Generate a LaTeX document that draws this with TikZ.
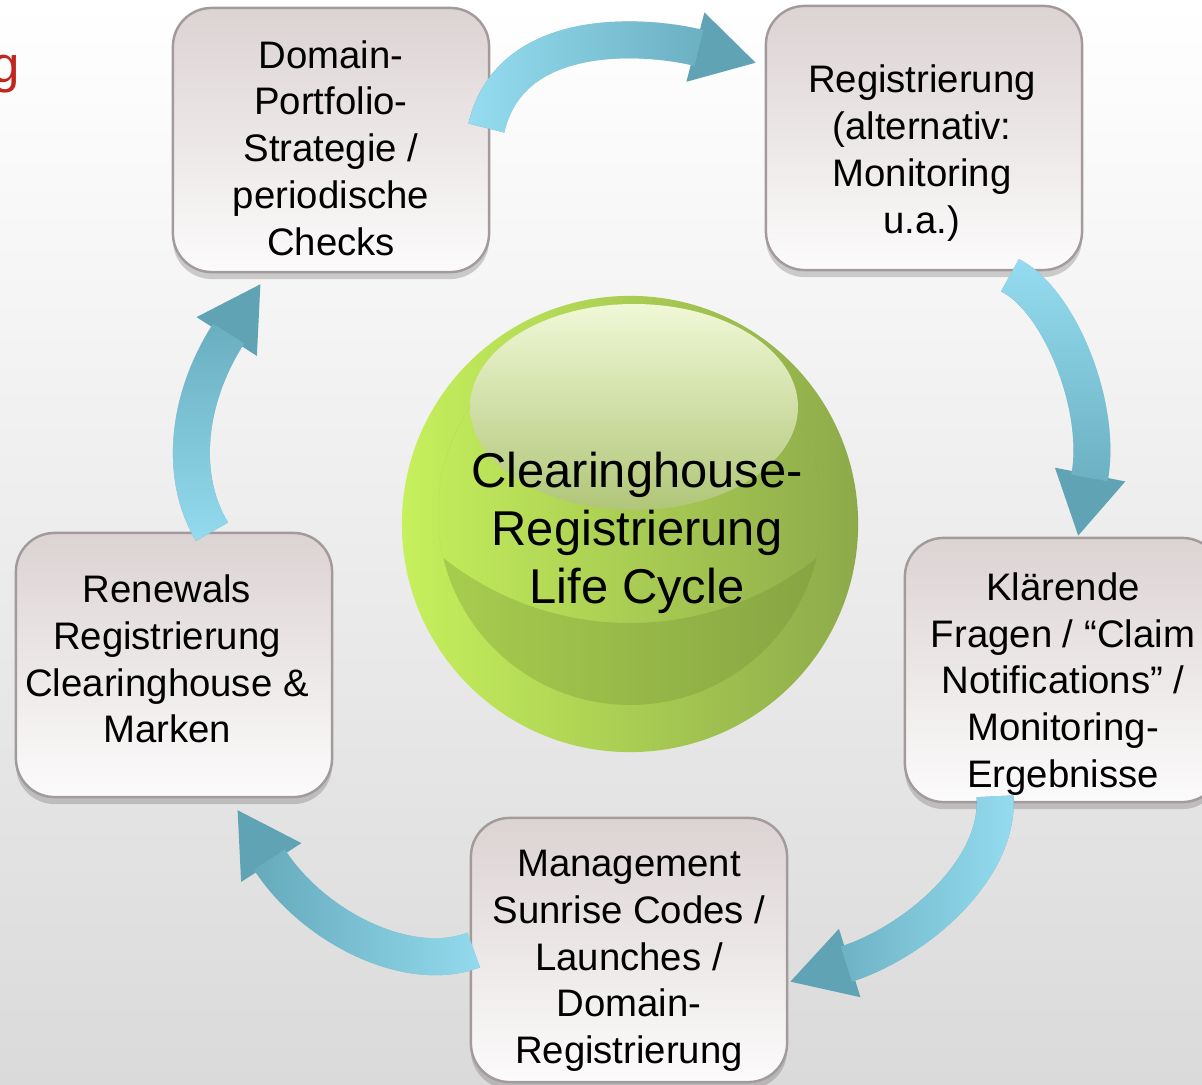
\documentclass[tikz,border=0pt]{standalone}
\usepackage{fontspec}
\setmainfont{Liberation Sans}
\usetikzlibrary{positioning,calc,shapes,shadows,fadings,arrows.meta}

\definecolor{boxtop}{HTML}{DCD3D3}
\definecolor{boxbot}{HTML}{FCFBFB}
\definecolor{boxline}{HTML}{A39B9B}
\definecolor{flowdark}{HTML}{5FA3B4}
\definecolor{flowlight}{HTML}{96DDF1}
\definecolor{ballleft}{HTML}{C6F05C}
\definecolor{ballmid}{HTML}{A0C052}
\definecolor{ballright}{HTML}{8DAA4A}
\definecolor{ballshade}{HTML}{6F8C32}
\definecolor{glosstop}{HTML}{F0F8D6}
\definecolor{glossbot}{HTML}{B0C678}
\definecolor{bgmid}{HTML}{F3F3F3}
\definecolor{bgbot}{HTML}{DADADA}
\definecolor{titlered}{HTML}{C0261E}

\tikzfading[name=fadeleft, left color=transparent!0, middle color=transparent!100, right color=transparent!100]
\tikzfading[name=faderight, left color=transparent!100, middle color=transparent!100, right color=transparent!0]
\tikzfading[name=fadetop, top color=transparent!0, middle color=transparent!100, bottom color=transparent!100]
\tikzfading[name=fadebottom, top color=transparent!100, middle color=transparent!100, bottom color=transparent!0]

\tikzstyle{stepbox}=[rectangle, rounded corners=11pt, draw=boxline, line width=0.7pt, top color=boxtop, bottom color=boxbot, minimum width=3.16cm, minimum height=2.64cm, drop shadow={shadow xshift=0pt, shadow yshift=-2pt, opacity=0.3, fill=black!60}]
\tikzstyle{steptext}=[align=center, inner sep=0pt, font=\fontsize{10.9}{13.3}\selectfont]
\tikzstyle{flow}=[line width=10.5pt, flowdark, -{Triangle[width=19pt, length=18pt]}]
\tikzstyle{flowtail}=[line width=10.5pt, flowlight, shorten >=17pt]

\begin{document}
\begin{tikzpicture}[x=0.01cm, y=-0.01cm]
	\clip (0,0) rectangle (1202,1085);
	\shade[top color=white, middle color=bgmid, bottom color=bgbot] (0,0) rectangle (1202,1085);
	\node[anchor=base east, inner sep=0pt, text=titlered, font=\fontsize{14.5}{17}\selectfont] (title) at (21,83) {g};

	% the five steps
	\node[stepbox] (strat) at (331,140) {};
	\node[stepbox] (reg) at (924,138) {};
	\node[stepbox] (claim) at (1063,670) {};
	\node[stepbox] (mgmt) at (629,950) {};
	\node[stepbox] (renew) at (174,665) {};
	\node[steptext] (strattxt) at ($(strat)+(0,8)$) {Domain-\\Portfolio-\\Strategie /\\periodische\\Checks};
	\node[steptext] (regtxt) at ($(reg)+(-2,15)$) {Registrierung\\(alternativ:\\Monitoring\\u.a.)};
	\node[steptext] (claimtxt) at ($(claim)+(0,14)$) {Klärende\\Fragen / “Claim\\Notifications” /\\Monitoring-\\Ergebnisse};
	\node[steptext] (mgmttxt) at ($(mgmt)+(0,11)$) {Management\\Sunrise Codes /\\Launches /\\Domain-\\Registrierung};
	\node[steptext] (renewtxt) at ($(renew)+(-7,-6)$) {Renewals\\Registrierung\\Clearinghouse \&\\Marken};

	% centre
	\node[circle, minimum size=4.56cm, inner sep=0pt, left color=ballleft, middle color=ballmid, right color=ballright,
		path picture={
			\coordinate (o) at (path picture bounding box.center);
			\begin{scope}
				\clip ($(o)+(0,-11)$) circle (192);
				\fill[ballshade, fill opacity=.3, even odd rule] ($(o)+(0,-11)$) circle (192) ($(o)+(0,-201)$) circle (300);
			\end{scope}
			\shade[top color=glosstop, bottom color=glossbot] ($(o)+(4,-117)$) ellipse (164 and 103);
		}] (cycle) at (630,524) {};
	\node[align=center, inner sep=0pt, font=\fontsize{13.9}{16.5}\selectfont] (cycletxt) at ($(cycle)+(7,9)$) {Clearinghouse-\\Registrierung\\Life Cycle};

	% arrows
	\draw[flow] ($(strat.east)+(-4,-12)$) .. controls +(25,-108) and +(-100,-26) .. ($(reg.west)+(-8,-75)$);
	\draw[flowtail, path fading=fadeleft] ($(strat.east)+(-4,-12)$) .. controls +(25,-108) and +(-100,-26) .. ($(reg.west)+(-8,-75)$);
	\draw[flow] ($(reg.south)+(86,4)$) .. controls +(50,25) and +(25,-128) .. ($(claim.north)+(15,0)$);
	\draw[flowtail, path fading=fadetop] ($(reg.south)+(86,4)$) .. controls +(50,25) and +(25,-128) .. ($(claim.north)+(15,0)$);
	\draw[flow] ($(claim.south)+(-68,-7)$) .. controls +(5,75) and +(124,-39) .. ($(mgmt.east)+(1,32)$);
	\draw[flowtail, path fading=faderight] ($(claim.south)+(-68,-7)$) .. controls +(5,75) and +(124,-39) .. ($(mgmt.east)+(1,32)$);
	\draw[flow] ($(mgmt.west)+(4,0)$) .. controls +(-65,25) and +(76,118) .. ($(renew.south)+(63,11)$);
	\draw[flowtail, path fading=faderight] ($(mgmt.west)+(4,0)$) .. controls +(-65,25) and +(76,118) .. ($(renew.south)+(63,11)$);
	\draw[flow] ($(renew.north)+(38,0)$) .. controls +(-32,-53) and +(-76,118) .. ($(strat.south)+(-70,10)$);
	\draw[flowtail, path fading=fadebottom] ($(renew.north)+(38,0)$) .. controls +(-32,-53) and +(-76,118) .. ($(strat.south)+(-70,10)$);
\end{tikzpicture}
\end{document}
